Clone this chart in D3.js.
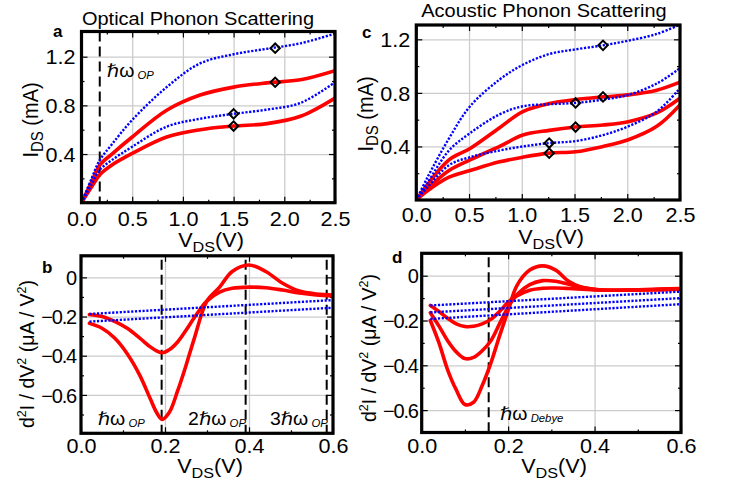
<!DOCTYPE html>
<html><head><meta charset="utf-8">
<script src="https://cdn.jsdelivr.net/npm/d3@7"></script>
<style>
body{margin:0;background:#fff}
text{font-family:"Liberation Sans",Arial,Helvetica,"DejaVu Sans",sans-serif;fill:#000}
</style>
</head><body><script>
// ---------------- DATA ----------------
// Panel a: Optical phonon scattering, I-V
const aX       = [0, 0.1, 0.18, 0.3, 0.5, 0.84, 1.17, 1.5, 1.83, 2.16, 2.5];
const aRedHi   = [0, 0.17, 0.31, 0.40, 0.54, 0.76, 0.885, 0.95, 0.985, 1.01, 1.085];
const aRedLo   = [0, 0.13, 0.23, 0.31, 0.405, 0.54, 0.60, 0.63, 0.65, 0.71, 0.86];
const aBlueHi  = [0, 0.20, 0.35, 0.48, 0.68, 0.95, 1.145, 1.22, 1.265, 1.31, 1.39];
const aBlueLo  = [0, 0.15, 0.27, 0.35, 0.46, 0.625, 0.69, 0.73, 0.765, 0.82, 0.99];
const aMarkX   = [1.91, 1.91, 1.5, 1.5];
const aMarkY   = [1.27, 0.99, 0.73, 0.63];
const aPhonon  = [0.18];

// Panel c: Acoustic phonon scattering, I-V
const cX       = [0, 0.1, 0.31, 0.51, 0.79, 1.01, 1.26, 1.51, 1.77, 2.01, 2.28, 2.5];
const cRedHi   = [0, 0.11, 0.30, 0.385, 0.54, 0.66, 0.72, 0.75, 0.77, 0.785, 0.82, 0.88];
const cRedMid  = [0, 0.08, 0.22, 0.30, 0.40, 0.485, 0.52, 0.545, 0.56, 0.585, 0.65, 0.76];
const cRedLo   = [0, 0.065, 0.17, 0.22, 0.285, 0.32, 0.35, 0.36, 0.40, 0.45, 0.55, 0.71];
const cBlueHi  = [0, 0.16, 0.46, 0.70, 0.90, 1.01, 1.09, 1.125, 1.155, 1.19, 1.24, 1.31];
const cBlueMid = [0, 0.12, 0.37, 0.50, 0.64, 0.70, 0.715, 0.725, 0.75, 0.785, 0.87, 0.985];
const cBlueLo  = [0, 0.09, 0.26, 0.32, 0.37, 0.40, 0.425, 0.44, 0.485, 0.55, 0.66, 0.835];
const cMarkX   = [1.77, 1.77, 1.51, 1.51, 1.26, 1.26];
const cMarkY   = [1.155, 0.77, 0.725, 0.545, 0.425, 0.35];

// Panel b: d2I/dV2, optical phonons
const bX       = [0.02, 0.05, 0.08, 0.11, 0.14, 0.165, 0.18, 0.193, 0.21, 0.23, 0.25, 0.27, 0.30, 0.33, 0.36, 0.40, 0.44, 0.48, 0.52, 0.56, 0.60];
const bRedBig  = [-0.235, -0.26, -0.31, -0.39, -0.50, -0.62, -0.69, -0.725, -0.69, -0.58, -0.45, -0.31, -0.12, -0.05, 0.03, 0.063, 0.03, -0.03, -0.07, -0.085, -0.09];
const bRedSm   = [-0.19, -0.20, -0.225, -0.26, -0.31, -0.355, -0.375, -0.385, -0.37, -0.33, -0.27, -0.205, -0.12, -0.075, -0.056, -0.05, -0.053, -0.065, -0.08, -0.09, -0.095];
const bLinX    = [0.02, 0.6];
const bBlueHi  = [-0.187, -0.116];
const bBlueLo  = [-0.226, -0.155];
const bPhonon  = [0.192, 0.392, 0.585];
const bLabels  = ["", "2", "3"];
const bLabelX  = [0.04, 0.255, 0.45];

// Panel d: d2I/dV2, acoustic phonons
const dX       = [0.02, 0.04, 0.06, 0.08, 0.10, 0.12, 0.14, 0.16, 0.18, 0.20, 0.22, 0.25, 0.28, 0.31, 0.34, 0.37, 0.41, 0.45, 0.5, 0.55, 0.6];
const dRedBig  = [-0.20, -0.30, -0.42, -0.51, -0.575, -0.565, -0.49, -0.39, -0.27, -0.155, -0.045, 0.025, 0.044, 0.025, -0.025, -0.052, -0.063, -0.065, -0.064, -0.062, -0.06];
const dRedMid  = [-0.165, -0.225, -0.29, -0.34, -0.37, -0.365, -0.335, -0.29, -0.215, -0.14, -0.085, -0.04, -0.022, -0.025, -0.038, -0.052, -0.063, -0.065, -0.064, -0.062, -0.06];
const dRedSm   = [-0.133, -0.16, -0.19, -0.215, -0.227, -0.226, -0.215, -0.195, -0.16, -0.118, -0.09, -0.065, -0.056, -0.055, -0.057, -0.06, -0.064, -0.065, -0.063, -0.06, -0.057];
const dLinX    = [0.02, 0.6];
const dBlueHi  = [-0.133, -0.071];
const dBlueMid = [-0.164, -0.10];
const dBlueLo  = [-0.193, -0.127];
const dPhonon  = [0.155];

// Tick values
const ivXTicks = [0, 0.5, 1.0, 1.5, 2.0, 2.5];
const ivXMinor = [0.25, 0.75, 1.25, 1.75, 2.25];
const ivYTicks = [0.4, 0.8, 1.2];
const ivYMinor = [0.2, 0.6, 1.0];
const ivXGrid  = [0.5, 1.0, 1.5, 2.0];
const dXTicks  = [0, 0.2, 0.4, 0.6];
const dXMinor  = [0.1, 0.3, 0.5];
const dYTicks  = [0, -0.2, -0.4, -0.6];
const dYMinor  = [-0.1, -0.3, -0.5, -0.7];
const dXGrid   = [0.2, 0.4];

// ---------------- DRAWING ----------------
const W = 735, H = 486, SX = 1.08;
const RED = "#ff0000", BLUE = "#0000ff";
const svg = d3.select("body").append("svg").attr("width", W).attr("height", H);

const fmt1 = d => d.toFixed(1);
const fmtD = d => d === 0 ? "0" : "\u2212" + Math.abs(d).toFixed(1);

function panel(cfg) {
  const x = d3.scaleLinear().domain(cfg.xd).range(cfg.xr);
  const y = d3.scaleLinear().domain(cfg.yd).range(cfg.yr);
  const [x0, x1] = cfg.xr, [y0, y1] = cfg.yr;
  const g = svg.append("g");
  const id = "clip" + cfg.name;
  svg.append("clipPath").attr("id", id).append("rect")
    .attr("x", x0).attr("y", y1).attr("width", x1 - x0).attr("height", y0 - y1);

  // grid
  g.append("g").attr("transform", `translate(0,${y0})`)
    .call(d3.axisBottom(x).tickValues(cfg.xGrid).tickSize(-(y0 - y1)).tickFormat(""))
    .call(s => { s.select(".domain").remove(); s.selectAll("line").attr("stroke", "#cccccc").attr("stroke-width", 1.3); });
  g.append("g").attr("transform", `translate(${x0},0)`)
    .call(d3.axisLeft(y).tickValues(cfg.yTicks).tickSize(-(x1 - x0)).tickFormat(""))
    .call(s => { s.select(".domain").remove(); s.selectAll("line").attr("stroke", "#cccccc").attr("stroke-width", 1.3); });

  // ticks on all sides
  const tk = (axis, tr, vals, size) => g.append("g").attr("transform", tr)
    .call(axis.tickValues(vals).tickSize(size).tickFormat(""))
    .call(s => { s.select(".domain").remove(); s.selectAll("line").attr("stroke", "#000").attr("stroke-width", 1.2); });
  tk(d3.axisBottom(x), `translate(0,${y0})`, cfg.xTicks, -6);
  tk(d3.axisBottom(x), `translate(0,${y0})`, cfg.xMinor, -3);
  tk(d3.axisTop(x), `translate(0,${y1})`, cfg.xTicks, -6);
  tk(d3.axisTop(x), `translate(0,${y1})`, cfg.xMinor, -3);
  tk(d3.axisLeft(y), `translate(${x0},0)`, cfg.yTicks, -6);
  tk(d3.axisLeft(y), `translate(${x0},0)`, cfg.yMinor, -3);
  tk(d3.axisRight(y), `translate(${x1},0)`, cfg.yTicks, -6);
  tk(d3.axisRight(y), `translate(${x1},0)`, cfg.yMinor, -3);

  // tick labels
  g.append("g").attr("transform", `translate(0,${y0})`)
    .call(d3.axisBottom(x).tickValues(cfg.xTicks).tickSize(0).tickFormat(cfg.xFmt))
    .call(s => {
      s.select(".domain").remove();
      s.selectAll("text").attr("y", cfg.xLabOff).attr("dy", null)
        .attr("font-size", 20).attr("font-family", null).attr("transform", `scale(${SX},1)`);
    });
  g.append("g").attr("transform", `translate(${x0},0)`)
    .call(d3.axisLeft(y).tickValues(cfg.yTicks).tickSize(0).tickFormat(cfg.yFmt))
    .call(s => {
      s.select(".domain").remove();
      s.selectAll("text").attr("x", -cfg.yLabOff / cfg.ySX).attr("dy", "0.36em")
        .attr("font-size", 20).attr("font-family", null)
        .attr("letter-spacing", cfg.yLS).attr("transform", `scale(${cfg.ySX},1)`);
    });

  const line = d3.line().x(d => x(d[0])).y(d => y(d[1])).curve(d3.curveCatmullRom.alpha(0.5));
  const plot = g.append("g").attr("clip-path", `url(#${id})`);

  // phonon dashed lines
  (cfg.dashed || []).forEach(v => plot.append("line")
    .attr("x1", x(v)).attr("x2", x(v)).attr("y1", y1 + cfg.dashTop).attr("y2", y0)
    .attr("stroke", "#000").attr("stroke-width", 2).attr("stroke-dasharray", "10,5"));

  cfg.red.forEach(s => plot.append("path").attr("d", line(d3.zip(s[0], s[1])))
    .attr("fill", "none").attr("stroke", RED).attr("stroke-width", 3.6).attr("stroke-linecap", "round"));
  cfg.blue.forEach(s => plot.append("path").attr("d", line(d3.zip(s[0], s[1])))
    .attr("fill", "none").attr("stroke", BLUE).attr("stroke-width", 2.4).attr("stroke-dasharray", "2.2,1.6"));

  if (cfg.marks) {
    const sym = d3.symbol().type(d3.symbolSquare).size(44);
    d3.zip(cfg.marks[0], cfg.marks[1]).forEach(m => g.append("path").attr("d", sym())
      .attr("transform", `translate(${x(m[0])},${y(m[1])}) rotate(45)`)
      .attr("fill", "none").attr("stroke", "#000").attr("stroke-width", 2));
  }

  // frame
  g.append("rect").attr("x", x0).attr("y", y1).attr("width", x1 - x0).attr("height", y0 - y1)
    .attr("fill", "none").attr("stroke", "#000").attr("stroke-width", 3.2);
  return { x, y, g };
}

function xLabel(cx, by) {
  const t = svg.append("text").attr("transform", `translate(${cx},${by}) scale(${SX},1)`)
    .attr("text-anchor", "middle").attr("font-size", 20);
  t.append("tspan").text("V");
  t.append("tspan").attr("font-size", 15).attr("dy", 5).text("DS");
  t.append("tspan").attr("dy", -5).text("(V)");
}
function ivYLabel(bx, cy) {
  const t = svg.append("text").attr("transform", `translate(${bx},${cy}) scale(${SX},1) rotate(-90)`)
    .attr("text-anchor", "middle").attr("font-size", 20);
  t.append("tspan").text("I");
  t.append("tspan").attr("font-size", 15).attr("dy", 5).text("DS");
  t.append("tspan").attr("dy", -5).text(" (mA)");
}
function d2YLabel(bx, cy) {
  const t = svg.append("text").attr("transform", `translate(${bx},${cy}) rotate(-90)`)
    .attr("text-anchor", "middle").attr("font-size", 19.5);
  t.append("tspan").text("d");
  t.append("tspan").attr("font-size", 12.5).attr("dy", -8).text("2");
  t.append("tspan").attr("dy", 8).text("I / dV");
  t.append("tspan").attr("font-size", 12.5).attr("dy", -8).text("2");
  t.append("tspan").attr("dy", 8).text(" (\u03BCA / V");
  t.append("tspan").attr("font-size", 12.5).attr("dy", -8).text("2");
  t.append("tspan").attr("dy", 8).text(")");
}
function hw(px, py, pre, sub) {
  const t = svg.append("text").attr("transform", `translate(${px},${py}) scale(${SX},1)`)
    .attr("font-size", 18);
  t.append("tspan").text(pre + "\u210F\u03C9");
  t.append("tspan").attr("font-size", 10.5).attr("font-style", "italic").attr("dx", 3).attr("dy", 2).text(sub);
}
function letter(px, py, s) {
  svg.append("text").attr("x", px).attr("y", py).attr("font-size", 17).attr("font-weight", "bold").text(s);
}
function title(cx, by, s) {
  svg.append("text").attr("transform", `translate(${cx},${by}) scale(${SX},1)`)
    .attr("text-anchor", "middle").attr("font-size", 18.5).text(s);
}

// Panel a
const A = panel({
  name: "a", xd: [0, 2.5], xr: [81.5, 335], yd: [0, 1.407], yr: [202.7, 31.5],
  xTicks: ivXTicks, xMinor: ivXMinor, yTicks: ivYTicks, yMinor: ivYMinor, xGrid: ivXGrid,
  xFmt: fmt1, yFmt: fmt1, xLabOff: 23, yLabOff: 6, ySX: SX, yLS: 0,
  dashed: aPhonon, dashTop: 0,
  red: [[aX, aRedHi], [aX, aRedLo]],
  blue: [[aX, aBlueHi], [aX, aBlueLo]],
  marks: [aMarkX, aMarkY]
});
// Panel c
const C = panel({
  name: "c", xd: [0, 2.5], xr: [416.3, 680], yd: [0, 1.307], yr: [200, 25],
  xTicks: ivXTicks, xMinor: ivXMinor, yTicks: ivYTicks, yMinor: ivYMinor, xGrid: ivXGrid,
  xFmt: fmt1, yFmt: fmt1, xLabOff: 22, yLabOff: 6, ySX: SX, yLS: 0,
  red: [[cX, cRedHi], [cX, cRedMid], [cX, cRedLo]],
  blue: [[cX, cBlueHi], [cX, cBlueMid], [cX, cBlueLo]],
  marks: [cMarkX, cMarkY]
});
// Panel b
const B = panel({
  name: "b", xd: [0, 0.6], xr: [81, 333], yd: [-0.796, 0.11], yr: [433.3, 255.8],
  xTicks: dXTicks, xMinor: dXMinor, yTicks: dYTicks, yMinor: dYMinor, xGrid: dXGrid,
  xFmt: fmt1, yFmt: fmtD, xLabOff: 20, yLabOff: 5, ySX: 1, yLS: -1.2,
  dashed: bPhonon, dashTop: 4,
  red: [[bX, bRedBig], [bX, bRedSm]],
  blue: [[bLinX, bBlueHi], [bLinX, bBlueLo]]
});
// Panel d
const D = panel({
  name: "d", xd: [0, 0.6], xr: [421.7, 681], yd: [-0.7, 0.1], yr: [432.5, 253.3],
  xTicks: dXTicks, xMinor: dXMinor, yTicks: dYTicks, yMinor: dYMinor, xGrid: dXGrid,
  xFmt: fmt1, yFmt: fmtD, xLabOff: 21, yLabOff: 4, ySX: 1, yLS: -1.2,
  dashed: dPhonon, dashTop: 4,
  red: [[dX, dRedBig], [dX, dRedMid], [dX, dRedSm]],
  blue: [[dLinX, dBlueHi], [dLinX, dBlueMid], [dLinX, dBlueLo]]
});

// texts
title(198, 25, "Optical Phonon Scattering");
title(544, 17, "Acoustic Phonon Scattering");
letter(53, 37, "a"); letter(362, 38, "c"); letter(42, 273, "b"); letter(392, 263, "d");
xLabel(211, 247); xLabel(551, 244); xLabel(210, 473); xLabel(554, 473);
ivYLabel(38, 120); ivYLabel(373, 114);
d2YLabel(34, 354); d2YLabel(376, 348);

hw(A.x(0.25), A.y(1.03), "", "OP");
bPhonon.forEach((v, i) => hw(B.x(bLabelX[i]), B.y(-0.755), bLabels[i], "OP"));
hw(D.x(0.181), D.y(-0.646), "", "Debye");
</script></body></html>
